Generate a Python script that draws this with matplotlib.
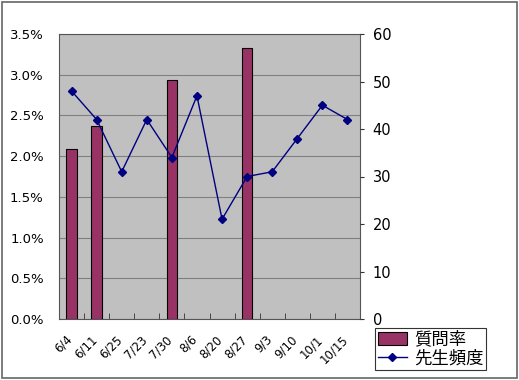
import numpy as np
import matplotlib.pyplot as plt
from matplotlib.patches import Rectangle
from matplotlib.ticker import FuncFormatter

plt.rcParams['font.family'] = ['DejaVu Sans', 'Noto Sans CJK JP']

# data
dates = ["6/4", "6/11", "6/25", "7/23", "7/30", "8/6", "8/20", "8/27", "9/3", "9/10", "10/1", "10/15"]
question_rate = [2.09, 2.37, np.nan, np.nan, 2.94, np.nan, np.nan, 3.33, np.nan, np.nan, np.nan, np.nan]  # %
teacher_freq = [48, 42, 31, 42, 34, 47, 21, 30, 31, 38, 45, 42]

fig = plt.figure(figsize=(5.19, 3.80), dpi=100)
ax = fig.add_axes([59 / 519, 61 / 380, 301 / 519, 285 / 380])
ax.set_facecolor('#C0C0C0')

x = np.arange(len(dates))
ax.bar(x, np.array(question_rate) / 100, width=0.42, color='#993366',
       edgecolor='black', linewidth=0.8, zorder=3, label='質問率')
ax.set_ylim(0, 0.035)
ax.set_yticks(np.arange(0, 0.0351, 0.005))
ax.yaxis.set_major_formatter(FuncFormatter(lambda v, p: f"{v * 100:.1f}%"))
ax.set_xlim(-0.5, len(dates) - 0.5)
ax.set_xticks(x - 0.25)
ax.set_xticklabels(dates, rotation=45, fontsize=8.5, ha='right', rotation_mode='anchor')
ax.tick_params(axis='x', length=0, pad=10)
ax.set_xticks(np.arange(0.5, len(dates) - 0.5), minor=True)
ax.tick_params(axis='x', which='minor', length=4, direction='in', color='#333333')
ax.tick_params(axis='y', labelsize=9.5, length=0, pad=11)
ax.grid(axis='y', color='#808080', linewidth=0.8, zorder=0)
for s in ax.spines.values():
    s.set_color('#555555')
    s.set_linewidth(0.8)

ax2 = ax.twinx()
ax2.plot(x, teacher_freq, color='#000080', marker='D', markersize=4.5,
         linewidth=1.0, zorder=4, label='先生頻度')
ax2.set_ylim(0, 60)
ax2.set_yticks(range(0, 61, 10))
ax2.tick_params(axis='y', labelsize=10.5, length=3, direction='out', color='#333333', pad=6)
for s in ax2.spines.values():
    s.set_visible(False)

h1, l1 = ax.get_legend_handles_labels()
h2, l2 = ax2.get_legend_handles_labels()
leg = fig.legend(h1 + h2, l1 + l2, loc='lower left', bbox_to_anchor=(375 / 519, 10 / 380),
                 prop={'family': ['Noto Sans CJK JP'], 'size': 12.5},
                 frameon=True, fancybox=False, edgecolor='black',
                 handlelength=1.7, borderpad=0.15, labelspacing=0.05, borderaxespad=0,
                 handletextpad=0.4)
leg.get_frame().set_linewidth(0.8)

fig.patches.append(Rectangle((0.003, 0.004), 0.994, 0.992, transform=fig.transFigure,
                             fill=False, edgecolor='#666666', linewidth=1.2))

fig.savefig('out.png', dpi=100)
